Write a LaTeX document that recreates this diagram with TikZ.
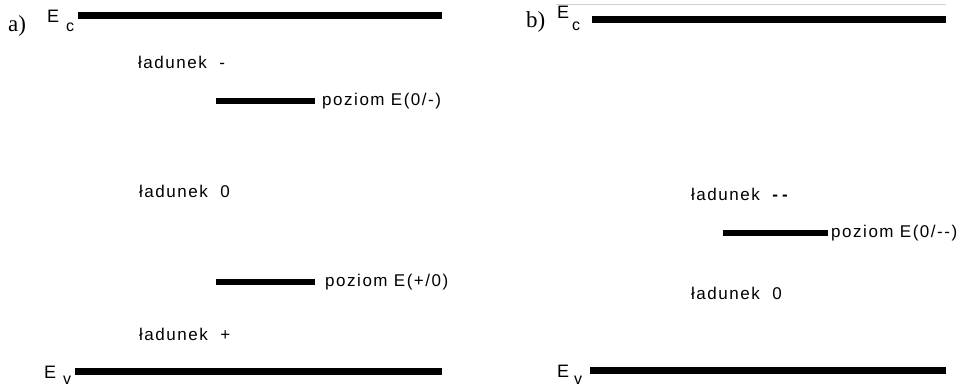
\documentclass[tikz,border=0pt]{standalone}
\usepackage{fontspec}
\setmainfont{Liberation Serif}
\newfontfamily\lblfont[LetterSpace=9]{Liberation Sans}
\newfontfamily\efont{Liberation Sans}
\begin{document}
\begin{tikzpicture}[x=1pt,y=-1pt,
  band/.style={line width=7pt},
  lvl/.style={line width=6pt},
  txt/.style={anchor=west,inner sep=0pt,font=\fontsize{17}{17}\lblfont},
  elab/.style={anchor=west,inner sep=0pt,font=\fontsize{18}{18}\efont},
  sub/.style={anchor=west,inner sep=0pt,font=\fontsize{16}{16}\efont},
  part/.style={anchor=west,inner sep=0pt,font=\fontsize{23}{23}\selectfont}]
\useasboundingbox (0,0) rectangle (960,388);
% ---------- a) ----------
\node[part] (pa) at (8,26) {a)};
\node[elab] (ecA) at (47,16.5) {E};
\node[sub] (ecAs) at (66,27) {c};
\coordinate (ecA1) at (78,15.5);
\coordinate (ecA2) at (442,15.5);
\draw[band] (ecA1) -- (ecA2);
\node[txt] (qm) at (138,62) {ładunek\ \ -};
\coordinate (l1a) at (216,101);
\coordinate (l1b) at (315,101);
\draw[lvl] (l1a) -- (l1b);
\node[txt] (p1) at (322,101) {poziom E(0/-)};
\node[txt] (q0) at (139,191) {ładunek\ \ 0};
\coordinate (l2a) at (216,282);
\coordinate (l2b) at (315,282);
\draw[lvl] (l2a) -- (l2b);
\node[txt] (p2) at (325,282) {poziom E(+/0)};
\node[txt] (qp) at (139,334) {ładunek\ \ +};
\node[elab] (evA) at (44,372) {E};
\node[sub] (evAs) at (63,380.5) {v};
\coordinate (evA1) at (75,371.5);
\coordinate (evA2) at (442,371.5);
\draw[band] (evA1) -- (evA2);
% ---------- b) ----------
\draw[gray!35,line width=0.8pt] (556,4) -- (946,4);
\node[part] (pb) at (526,22) {b)};
\node[elab] (ecB) at (557,12) {E};
\node[sub] (ecBs) at (572,26) {c};
\coordinate (ecB1) at (592,19);
\coordinate (ecB2) at (946,19);
\draw[band] (ecB1) -- (ecB2);
\node[txt] (qmm) at (691,194) {ładunek\ \ \textbf{-\hspace{4pt}-}};
\coordinate (l3a) at (723,233);
\coordinate (l3b) at (828,233);
\draw[lvl] (l3a) -- (l3b);
\node[txt] (p3) at (831,233) {poziom E(0/--)};
\node[txt] (q0b) at (691,293) {ładunek\ \ 0};
\node[elab] (evB) at (557,371) {E};
\node[sub] (evBs) at (574,380) {v};
\coordinate (evB1) at (590,370);
\coordinate (evB2) at (946,370);
\draw[band] (evB1) -- (evB2);
\end{tikzpicture}
\end{document}
